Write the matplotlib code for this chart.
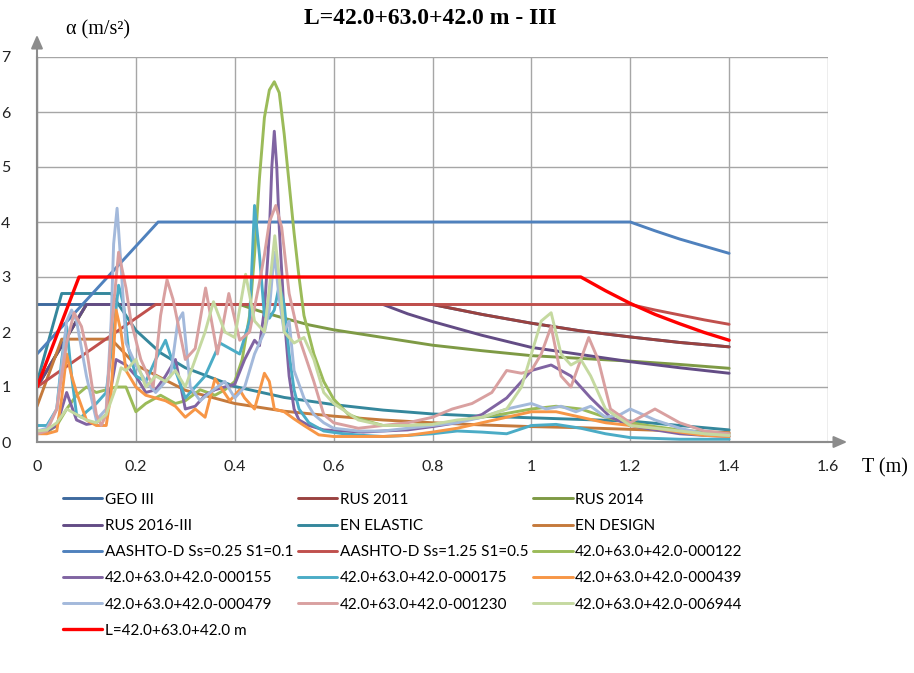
import numpy as np
import matplotlib.pyplot as plt

# code spectra
geo_t = [0, 0.8, 0.9, 1.0, 1.1, 1.2, 1.3, 1.4]
geo_a = [2.5, 2.5, 2.32, 2.16, 2.02, 1.91, 1.81, 1.73]

rus11_t = [0, 0.1, 0.8, 0.9, 1.0, 1.1, 1.2, 1.3, 1.4]
rus11_a = [1.0, 2.5, 2.5, 2.32, 2.16, 2.02, 1.91, 1.81, 1.73]

rus14_t = [0, 0.1, 0.41, 0.45, 0.5, 0.55, 0.6, 0.7, 0.8, 0.9, 1.0, 1.1, 1.2, 1.3, 1.4]
rus14_a = [1.0, 2.5, 2.5, 2.38, 2.25, 2.13, 2.04, 1.9, 1.76, 1.66, 1.57, 1.52, 1.47, 1.41, 1.34]

rus16_t = [0, 0.1, 0.7, 0.75, 0.8, 0.9, 1.0, 1.1, 1.2, 1.3, 1.4]
rus16_a = [1.0, 2.5, 2.5, 2.33, 2.19, 1.94, 1.72, 1.59, 1.46, 1.35, 1.25]

enel_t = [0, 0.05, 0.15, 0.2, 0.25, 0.3, 0.4, 0.5, 0.6, 0.7, 0.8, 0.9, 1.0, 1.1, 1.2, 1.3, 1.4]
enel_a = [1.08, 2.7, 2.7, 2.03, 1.62, 1.35, 1.01, 0.81, 0.68, 0.58, 0.51, 0.47, 0.44, 0.41, 0.38, 0.3, 0.22]

endes_t = [0, 0.05, 0.15, 0.2, 0.3, 0.4, 0.5, 0.6, 0.7, 0.8, 0.9, 1.0, 1.1, 1.2, 1.3, 1.4]
endes_a = [0.65, 1.87, 1.87, 1.4, 0.94, 0.7, 0.56, 0.47, 0.4, 0.35, 0.31, 0.28, 0.26, 0.23, 0.2, 0.17]

aa1_t = [0, 0.245, 1.2, 1.25, 1.3, 1.35, 1.4]
aa1_a = [1.6, 4.0, 4.0, 3.84, 3.69, 3.56, 3.43]

aa2_t = [0, 0.24, 1.2, 1.25, 1.3, 1.35, 1.4]
aa2_a = [1.0, 2.5, 2.5, 2.4, 2.31, 2.22, 2.14]

# records
r122_t = [0, 0.02, 0.04, 0.06, 0.08, 0.10, 0.12, 0.14, 0.16, 0.18, 0.20, 0.22, 0.25, 0.28, 0.30,
          0.33, 0.36, 0.38, 0.40, 0.415, 0.43, 0.44, 0.45, 0.46, 0.47, 0.48, 0.49, 0.50, 0.51, 0.52,
          0.53, 0.54, 0.56, 0.58, 0.60, 0.63, 0.66, 0.70, 0.75, 0.80, 0.85, 0.90, 0.95, 1.00, 1.05,
          1.10, 1.15, 1.20, 1.25, 1.30, 1.35, 1.40]
r122_a = [0.15, 0.18, 0.3, 0.6, 0.85, 1.0, 0.9, 0.95, 1.0, 1.0, 0.55, 0.7, 0.85, 0.7, 0.75,
          0.95, 0.85, 0.95, 1.1, 1.5, 2.3, 3.4, 4.8, 5.9, 6.4, 6.55, 6.35, 5.6, 4.7, 3.8,
          3.0, 2.3, 1.6, 1.1, 0.78, 0.5, 0.4, 0.3, 0.3, 0.32, 0.38, 0.45, 0.52, 0.6, 0.65,
          0.6, 0.45, 0.35, 0.28, 0.22, 0.18, 0.15]

r155_t = [0, 0.02, 0.04, 0.06, 0.08, 0.10, 0.12, 0.14, 0.16, 0.18, 0.20, 0.22, 0.24, 0.26, 0.28,
          0.30, 0.32, 0.34, 0.36, 0.38, 0.40, 0.42, 0.44, 0.45, 0.46, 0.47, 0.475, 0.48, 0.485, 0.49,
          0.50, 0.51, 0.52, 0.53, 0.55, 0.58, 0.62, 0.66, 0.70, 0.75, 0.80, 0.85, 0.90, 0.95, 1.00,
          1.04, 1.08, 1.12, 1.16, 1.20, 1.25, 1.30, 1.35, 1.40]
r155_a = [0.2, 0.2, 0.3, 0.9, 0.4, 0.32, 0.35, 0.5, 1.5, 1.4, 1.2, 0.9, 0.95, 1.2, 1.5,
          0.6, 0.65, 0.85, 0.95, 1.0, 1.05, 1.5, 1.85, 1.75, 2.4, 3.8, 5.0, 5.65, 5.0, 3.9,
          2.3, 1.2, 0.6, 0.4, 0.3, 0.22, 0.2, 0.18, 0.2, 0.22, 0.28, 0.35, 0.5, 0.8, 1.3,
          1.4, 1.2, 0.8, 0.45, 0.3, 0.22, 0.15, 0.12, 0.1]

r175_t = [0, 0.02, 0.04, 0.05, 0.06, 0.07, 0.08, 0.09, 0.10, 0.12, 0.14, 0.155, 0.165, 0.175, 0.185,
          0.20, 0.22, 0.24, 0.26, 0.28, 0.30, 0.32, 0.34, 0.37, 0.39, 0.41, 0.43, 0.44, 0.45, 0.46,
          0.47, 0.48, 0.49, 0.50, 0.51, 0.52, 0.53, 0.55, 0.58, 0.62, 0.66, 0.70, 0.75, 0.80, 0.85,
          0.90, 0.95, 1.00, 1.05, 1.10, 1.15, 1.20, 1.30, 1.40]
r175_a = [0.3, 0.3, 0.6, 1.5, 2.1, 1.2, 0.5, 0.45, 0.55, 0.7, 0.9, 2.0, 2.85, 2.5, 1.7,
          1.2, 1.1, 1.5, 1.85, 1.3, 0.8, 1.0, 1.2, 1.8, 1.7, 1.6, 2.2, 4.3, 3.4, 2.3,
          2.25, 2.4, 2.85, 2.5, 1.6, 0.95, 0.6, 0.35, 0.2, 0.15, 0.12, 0.1, 0.12, 0.15, 0.2,
          0.18, 0.15, 0.3, 0.32, 0.25, 0.15, 0.08, 0.05, 0.05]

r439_t = [0, 0.02, 0.04, 0.05, 0.06, 0.07, 0.08, 0.10, 0.12, 0.14, 0.15, 0.16, 0.17, 0.18, 0.20,
          0.22, 0.24, 0.26, 0.28, 0.30, 0.32, 0.34, 0.36, 0.39, 0.41, 0.42, 0.44, 0.46, 0.47, 0.48,
          0.50, 0.52, 0.54, 0.57, 0.60, 0.65, 0.70, 0.75, 0.80, 0.85, 0.90, 0.95, 1.00, 1.05, 1.10,
          1.15, 1.20, 1.25, 1.30, 1.35, 1.40]
r439_a = [0.15, 0.15, 0.2, 0.8, 1.6, 1.2, 0.9, 0.4, 0.3, 0.3, 0.9, 2.4, 2.0, 1.3, 1.0,
          0.85, 0.8, 0.75, 0.65, 0.45, 0.6, 0.45, 1.15, 0.75, 0.95, 0.8, 0.6, 1.25, 1.1, 0.6,
          0.55, 0.42, 0.3, 0.13, 0.1, 0.1, 0.1, 0.12, 0.18, 0.25, 0.35, 0.45, 0.55, 0.55, 0.45,
          0.35, 0.3, 0.25, 0.18, 0.12, 0.1]

r479_t = [0, 0.02, 0.04, 0.06, 0.07, 0.08, 0.10, 0.12, 0.14, 0.15, 0.155, 0.162, 0.17, 0.18, 0.20,
          0.22, 0.24, 0.27, 0.285, 0.295, 0.31, 0.33, 0.35, 0.38, 0.40, 0.42, 0.44, 0.46, 0.47, 0.48,
          0.49, 0.50, 0.51, 0.52, 0.54, 0.56, 0.58, 0.60, 0.65, 0.70, 0.75, 0.80, 0.85, 0.90, 0.95,
          1.00, 1.03, 1.06, 1.09, 1.12, 1.15, 1.18, 1.20, 1.25, 1.30, 1.35, 1.40]
r479_a = [0.2, 0.25, 0.6, 2.2, 2.4, 2.2, 1.2, 0.4, 0.6, 2.2, 3.6, 4.25, 3.2, 1.8, 1.4,
          1.1, 0.9, 1.2, 2.2, 2.35, 1.0, 0.75, 0.9, 1.1, 0.8, 1.0, 1.6, 2.0, 2.4, 3.45,
          2.6, 2.0, 2.2, 1.3, 0.8, 0.5, 0.35, 0.25, 0.2, 0.2, 0.25, 0.3, 0.35, 0.45, 0.6,
          0.7, 0.6, 0.65, 0.55, 0.65, 0.45, 0.5, 0.6, 0.4, 0.25, 0.15, 0.12]

r1230_t = [0, 0.02, 0.04, 0.06, 0.075, 0.09, 0.10, 0.12, 0.13, 0.14, 0.15, 0.165, 0.18, 0.19, 0.21,
           0.235, 0.25, 0.263, 0.275, 0.30, 0.32, 0.341, 0.365, 0.388, 0.41, 0.43, 0.45, 0.46, 0.47, 0.483,
           0.495, 0.51, 0.53, 0.56, 0.58, 0.60, 0.65, 0.70, 0.75, 0.80, 0.84, 0.88, 0.92, 0.95, 0.98,
           1.00, 1.02, 1.04, 1.06, 1.08, 1.10, 1.116, 1.135, 1.16, 1.20, 1.25, 1.30, 1.35, 1.40]
r1230_a = [0.15, 0.2, 0.6, 1.8, 2.35, 2.1, 1.7, 0.5, 0.3, 0.5, 2.0, 3.45, 2.8, 2.2, 1.5,
           1.0, 2.3, 2.95, 2.6, 1.5, 1.7, 2.8, 1.6, 2.7, 1.85, 2.0, 2.9, 3.4, 4.0, 4.3,
           3.9, 2.7, 1.9, 1.1, 0.5, 0.35, 0.25, 0.3, 0.35, 0.45, 0.6, 0.7, 0.9, 1.3, 1.25,
           1.3, 1.6, 2.1, 1.2, 1.0, 1.5, 1.9, 1.5, 0.6, 0.35, 0.6, 0.35, 0.2, 0.15]

r6944_t = [0, 0.02, 0.04, 0.06, 0.08, 0.10, 0.12, 0.14, 0.16, 0.17, 0.18, 0.20, 0.22, 0.24, 0.26,
           0.28, 0.30, 0.32, 0.34, 0.357, 0.38, 0.40, 0.422, 0.44, 0.46, 0.47, 0.481, 0.49, 0.50, 0.52,
           0.54, 0.56, 0.58, 0.60, 0.65, 0.70, 0.75, 0.80, 0.85, 0.90, 0.95, 0.98, 1.00, 1.02, 1.04,
           1.06, 1.08, 1.10, 1.12, 1.15, 1.20, 1.25, 1.30, 1.35, 1.40]
r6944_a = [0.2, 0.22, 0.35, 0.6, 0.5, 0.4, 0.35, 0.5, 1.0, 1.35, 1.3, 1.5, 1.0, 1.2, 1.1,
           1.3, 1.0, 1.5, 2.0, 2.55, 2.0, 1.9, 3.05, 2.2, 2.0, 2.8, 3.75, 3.0, 2.0, 1.8,
           1.9, 1.5, 0.9, 0.7, 0.4, 0.3, 0.3, 0.32, 0.4, 0.45, 0.6, 1.0, 1.6, 2.2, 2.35,
           1.6, 1.4, 1.5, 1.2, 0.6, 0.3, 0.25, 0.2, 0.15, 0.12]

lspan_t = [0, 0.085, 1.1, 1.15, 1.2, 1.25, 1.3, 1.35, 1.4]
lspan_a = [1.0, 3.0, 3.0, 2.75, 2.52, 2.32, 2.15, 1.99, 1.85]

names = ['GEO III', 'RUS 2011', 'RUS 2014', 'RUS 2016-III', 'EN ELASTIC', 'EN DESIGN',
         'AASHTO-D Ss=0.25 S1=0.1', 'AASHTO-D Ss=1.25 S1=0.5',
         '42.0+63.0+42.0-000122', '42.0+63.0+42.0-000155', '42.0+63.0+42.0-000175',
         '42.0+63.0+42.0-000439', '42.0+63.0+42.0-000479', '42.0+63.0+42.0-001230',
         '42.0+63.0+42.0-006944', 'L=42.0+63.0+42.0 m']
series = [(geo_t, geo_a), (rus11_t, rus11_a), (rus14_t, rus14_a), (rus16_t, rus16_a),
          (enel_t, enel_a), (endes_t, endes_a), (aa1_t, aa1_a), (aa2_t, aa2_a),
          (r122_t, r122_a), (r155_t, r155_a), (r175_t, r175_a), (r439_t, r439_a),
          (r479_t, r479_a), (r1230_t, r1230_a), (r6944_t, r6944_a), (lspan_t, lspan_a)]
colors = ['#3E6A9E', '#9A4240', '#7E9A45', '#634C85', '#35879C', '#C57A3C',
          '#4F81BD', '#C0504D', '#9BBB59', '#8064A2', '#4BACC6', '#F79646',
          '#A3B9DB', '#D9A0A0', '#C5D9A0', '#FF0000']

xticks = [0, 0.2, 0.4, 0.6, 0.8, 1.0, 1.2, 1.4, 1.6]
xlabels = ['0', '0.2', '0.4', '0.6', '0.8', '1', '1.2', '1.4', '1.6']
yticks = [0, 1, 2, 3, 4, 5, 6, 7]

plt.rcParams['font.family'] = ['Lato', 'DejaVu Sans']

W, H = 914, 673
fig = plt.figure(figsize=(W / 100, H / 100), dpi=100)
ax = fig.add_axes([37 / W, 1 - 442 / H, (828 - 37) / W, (442 - 57) / H])

handles = []
for (t, a), name, c in zip(series, names, colors):
    lw = 2.4 if name.startswith('L=') else 2.1
    h, = ax.plot(t, a, color=c, lw=lw, label=name, solid_joinstyle='round', solid_capstyle='round')
    handles.append(h)

ax.set_xlim(0, 1.6)
ax.set_ylim(0, 7)
ax.set_xticks(xticks)
ax.set_xticklabels(xlabels)
ax.set_yticks(yticks)
ax.grid(True, color='#A6A6A6', lw=1)
ax.set_axisbelow(True)
ax.tick_params(length=0, labelsize=11.5, colors='#222222')
ax.tick_params(axis='x', pad=13)
ax.tick_params(axis='y', pad=19)
for s in ['top', 'right']:
    ax.spines[s].set_visible(False)
for s in ['left', 'bottom']:
    ax.spines[s].set_color('#8C8C8C')
    ax.spines[s].set_linewidth(1.5)

# axis arrows
ax.annotate('', xy=(850 / W, 1 - 442 / H), xytext=(37 / W, 1 - 442 / H),
            xycoords='figure fraction', textcoords='figure fraction',
            arrowprops=dict(arrowstyle='-|>,head_length=0.8,head_width=0.35', color='#8C8C8C', lw=1.5))
ax.annotate('', xy=(37 / W, 1 - 32 / H), xytext=(37 / W, 1 - 442 / H),
            xycoords='figure fraction', textcoords='figure fraction',
            arrowprops=dict(arrowstyle='-|>,head_length=0.8,head_width=0.35', color='#8C8C8C', lw=1.5))

fig.text(430 / W, 1 - 18 / H, 'L=42.0+63.0+42.0 m - III', ha='center', va='center',
         family='Liberation Serif', fontsize=17, weight='bold')
fig.text(66 / W, 1 - 30 / H, 'α (m/s²)', ha='left', va='center',
         family='Liberation Serif', fontsize=14.5)
fig.text(862 / W, 1 - 468 / H, 'T (m)', ha='left', va='center',
         family='Liberation Serif', fontsize=14.5)

# legend, row-major like the original
order = []
for c in range(3):
    for r in range(6):
        i = 3 * r + c
        if i < len(handles):
            order.append(i)
fig.legend([handles[i] for i in order], [names[i] for i in order], ncol=3,
           loc='upper left', bbox_to_anchor=(55 / W, 1 - 485 / H), frameon=False,
           fontsize=11, handlelength=2.6, handletextpad=0.15, columnspacing=0.3,
           labelspacing=0.8, borderpad=0)

fig.savefig('out.png', dpi=100)
